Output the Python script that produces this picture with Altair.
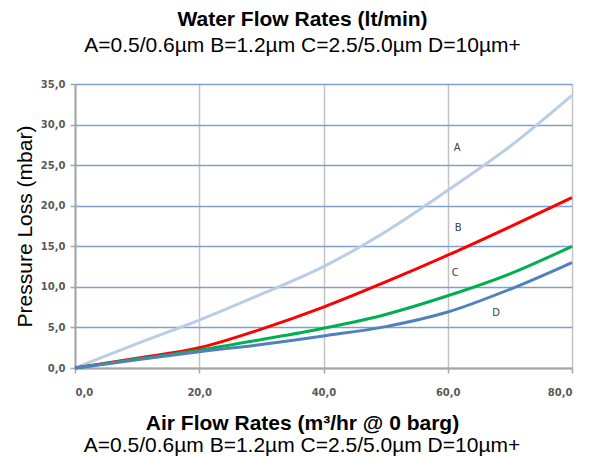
import altair as alt
import pandas as pd

flow = [0, 10, 20, 30, 40, 50, 60, 70, 80]
loss_a = [0, 3.0, 5.9, 9.1, 12.5, 16.8, 21.9, 27.3, 33.6]
loss_b = [0, 1.2, 2.5, 4.8, 7.5, 10.6, 13.9, 17.4, 21.0]
loss_c = [0, 1.1, 2.2, 3.5, 4.9, 6.6, 8.9, 11.6, 15.0]
loss_d = [0, 1.0, 2.0, 2.9, 3.95, 5.1, 6.9, 9.7, 13.0]

series_names = ["A", "B", "C", "D"]
series_colors = ["#b9cde5", "#ff0000", "#00b050", "#4f81bd"]

label_names = ["A", "B", "C", "D"]
label_x = [61.5, 61.7, 61.2, 67.8]
label_y = [27.1, 17.3, 11.7, 6.8]

subtitle_text = "A=0.5/0.6µm B=1.2µm C=2.5/5.0µm D=10µm+"

rows = []
for name, vals in zip(series_names, [loss_a, loss_b, loss_c, loss_d]):
    for x, y in zip(flow, vals):
        rows.append({"series": name, "flow": x, "loss": y})
df = pd.DataFrame(rows)
lab = pd.DataFrame({"name": label_names, "x": label_x, "y": label_y})

W, H = 497, 284
FS = 21
label_expr = "replace(format(datum.value, '.1f'), '.', ',')"

x_enc = alt.X("flow:Q", scale=alt.Scale(domain=[0, 80], nice=False),
              axis=alt.Axis(values=[0, 20, 40, 60, 80], labelExpr=label_expr,
                            title="Air Flow Rates (m³/hr @ 0 barg)",
                            titleFont="Liberation Sans", titleFontSize=FS,
                            titleFontWeight="bold", titleColor="#000000",
                            titleX=227, titlePadding=15,
                            grid=True, gridColor="#c4c4c4", gridWidth=1.5,
                            domainColor="#a6a6a6", domainWidth=2,
                            tickColor="#a6a6a6", tickSize=5, tickWidth=1.5,
                            labelPadding=14, labelFont="DejaVu Sans",
                            labelFontSize=10, labelFontWeight="bold",
                            labelColor="#595959"))
y_enc = alt.Y("loss:Q", scale=alt.Scale(domain=[0, 35], nice=False),
              axis=alt.Axis(values=[0, 5, 10, 15, 20, 25, 30, 35], labelExpr=label_expr,
                            title="Pressure Loss (mbar)",
                            titleFont="Liberation Sans", titleFontSize=FS,
                            titleFontWeight="normal", titleColor="#000000",
                            titlePadding=5,
                            grid=True, gridColor="#7f9fcf", gridWidth=1.5,
                            domainColor="#a6a6a6", domainWidth=2,
                            tickColor="#a6a6a6", tickSize=5, tickWidth=1.5,
                            labelPadding=5, labelFont="DejaVu Sans",
                            labelFontSize=10, labelFontWeight="bold",
                            labelColor="#595959"))

lines = alt.Chart(df).mark_line(interpolate="monotone", strokeWidth=3).encode(
    x=x_enc, y=y_enc,
    color=alt.Color("series:N", scale=alt.Scale(domain=series_names, range=series_colors),
                    legend=None),
    detail="series:N",
)

labels = alt.Chart(lab).mark_text(font="DejaVu Sans", fontSize=10, color="#404040").encode(
    x="x:Q", y="y:Q", text="name:N"
)

sub = alt.Chart(pd.DataFrame({"t": [subtitle_text]})).mark_text(
    font="Liberation Sans", fontSize=FS, color="#000000", baseline="alphabetic"
).encode(x=alt.value(227), y=alt.value(H + 84), text="t:N")

chart = alt.layer(lines, labels, sub).properties(
    width=W, height=H,
    title=alt.TitleParams(
        text="Water Flow Rates (lt/min)",
        subtitle=subtitle_text,
        font="Liberation Sans", fontSize=FS, fontWeight="bold", color="#000000",
        subtitleFont="Liberation Sans", subtitleFontSize=FS, subtitleColor="#000000",
        subtitlePadding=5, anchor="middle", dx=-21, offset=23,
    ),
    autosize=alt.AutoSizeParams(type="none"),
    padding={"left": 67, "top": 76, "right": 10, "bottom": 97},
).configure_view(stroke=None).configure(background="#ffffff")

chart.save("out.html", embed_options={"renderer": "svg", "actions": False})
